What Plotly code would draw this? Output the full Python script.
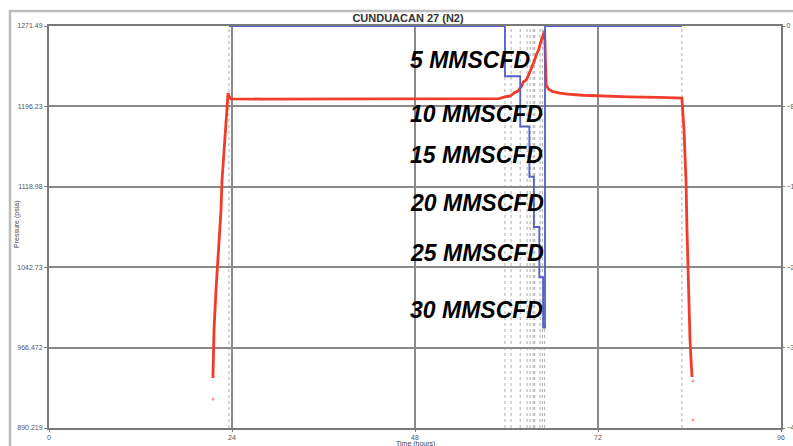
import plotly.graph_objects as go

# ---------------- data ----------------
pressure_time = [21.5, 21.64, 21.9, 22.16, 22.3, 22.56, 22.69, 22.95, 23.08, 23.21, 23.34, 23.48,
                 23.6, 23.87, 28, 34, 40, 46, 52, 56, 59.0, 59.8, 60.5, 61.0, 61.5, 61.8, 62.0,
                 62.2, 62.6, 63.0, 63.3, 63.6, 63.9, 64.2, 64.5, 64.8, 65.0, 65.1, 65.2, 65.5,
                 66.0, 67.0, 68.0, 70.0, 72.0, 76.0, 80.0, 83.0, 83.28, 83.54, 83.67, 83.8,
                 83.93, 84.07, 84.2, 84.33]
pressure_psia = [937.6, 983.0, 1021.0, 1049.6, 1068.5, 1097.0, 1125.0, 1153.9, 1172.9, 1187.0,
                 1201.0, 1207.9, 1205.0, 1202.3, 1202.2, 1202.3, 1202.3, 1202.4, 1202.4, 1202.5,
                 1202.6, 1204.2, 1205.1, 1208.0, 1209.8, 1212.7, 1214.5, 1218.4, 1220.3, 1226.9,
                 1231.7, 1237.3, 1244.0, 1248.7, 1256.3, 1262.0, 1266.8, 1240.0, 1215.5, 1211.7,
                 1209.5, 1207.8, 1206.8, 1205.8, 1205.2, 1204.3, 1203.7, 1203.2, 1172.9, 1125.4,
                 1078.0, 1040.0, 1002.0, 973.7, 954.7, 938.6]

outlier_time = [21.5, 84.46, 84.46]
outlier_psia = [917.7, 934.8, 897.8]

rate_time = [23.6, 59.8, 59.8, 61.8, 61.8, 63.0, 63.0, 63.6, 63.6, 64.3, 64.3, 64.8, 64.8,
             65.05, 65.05, 83.0]
rate_mmscfd = [0, 0, -5, -5, -10, -10, -15, -15, -20, -20, -25, -25, -30, -30, 0, 0]

event_times = [23.6, 59.8, 60.6, 61.8, 62.7, 63.1, 63.5, 63.7, 64.4, 64.7, 65.0, 83.0]

rate_labels = ["5 MMSCFD", "10 MMSCFD", "15 MMSCFD", "20 MMSCFD", "25 MMSCFD", "30 MMSCFD"]
rate_label_pos = [-3.38, -8.76, -12.84, -17.61, -22.59, -28.26]
rate_label_time = 47.1

y_tick_vals = [890.219, 966.472, 1042.725, 1118.978, 1195.231, 1271.484]
y_tick_text = ["890.219", "966.472", "1042.73", "1118.98", "1196.23", "1271.49"]
x_tick_vals = [0, 24, 48, 72, 96]
y2_tick_vals = [0, -8, -16, -24, -32, -40]

# ---------------- figure ----------------
FONT = "Liberation Sans, Arial, sans-serif"
L, R, T, B = 49, 12, 26, 18
W, H = 793, 446
PW, PH = W - L - R, H - T - B

fig = go.Figure()

fig.add_trace(go.Scatter(
    x=rate_time, y=rate_mmscfd, yaxis="y2", mode="lines",
    line=dict(color="rgb(85,95,200)", width=1.8), showlegend=False))

fig.add_trace(go.Scatter(
    x=pressure_time, y=pressure_psia, mode="lines",
    line=dict(color="rgb(240,60,40)", width=2.8), showlegend=False))

fig.add_trace(go.Scatter(
    x=outlier_time, y=outlier_psia, mode="markers",
    marker=dict(color="rgba(240,90,80,0.6)", size=3), showlegend=False))

shapes = []
for t in event_times:
    shapes.append(dict(type="line", xref="x", yref="paper", x0=t, x1=t, y0=0, y1=1,
                       line=dict(color="rgba(120,120,120,0.6)", width=1, dash="dot"),
                       layer="below"))
# outer frame
shapes.append(dict(type="rect", xref="paper", yref="paper",
                   x0=(10 - L) / PW, x1=(810 - L) / PW,
                   y0=-(470 - (H - B)) / PH, y1=1 + (T - 11) / PH,
                   line=dict(color="#bdbdbd", width=2.5), fillcolor="rgba(0,0,0,0)",
                   layer="below"))

annotations = []
for txt, yv in zip(rate_labels, rate_label_pos):
    annotations.append(dict(x=rate_label_time, y=yv, xref="x", yref="y2", text=txt,
                            showarrow=False, xanchor="left", yanchor="middle",
                            font=dict(family=FONT, size=23, color="black",
                                      weight="bold", style="italic")))
# axis titles
annotations.append(dict(x=(415 - L) / PW, y=-(443.5 - (H - B)) / PH, xref="paper", yref="paper",
                        text="Time (hours)", showarrow=False, xanchor="center",
                        yanchor="middle", borderpad=0,
                        font=dict(family=FONT, size=7, color="#444444")))
annotations.append(dict(x=-(L - 17) / PW, y=(H - B - 225) / PH, xref="paper", yref="paper",
                        text="Pressure (psia)", showarrow=False, textangle=-90,
                        xanchor="center", yanchor="middle",
                        font=dict(family=FONT, size=7, color="#444444")))

fig.update_layout(
    width=W, height=H,
    margin=dict(l=L, r=R, t=T, b=B, autoexpand=False),
    paper_bgcolor="white", plot_bgcolor="white",
    title=dict(text="<b>CUNDUACAN 27 (N2)</b>", x=408 / W, xanchor="center",
               y=1 - 18 / H, yanchor="middle",
               font=dict(family=FONT, size=11, color="#333333")),
    shapes=shapes, annotations=annotations,
    xaxis=dict(range=[0, 96], tickvals=x_tick_vals, ticktext=[str(v) for v in x_tick_vals],
               showgrid=True, gridcolor="#8a8a8a", gridwidth=1.5, automargin=False,
               showline=True, linecolor="#7a7a7a", linewidth=2, mirror=True,
               ticks="outside", ticklen=2, tickcolor="#7a7a7a",
               tickfont=dict(family=FONT, size=7, color="#555555"),
               zeroline=False),
    yaxis=dict(range=[890.219, 1271.484], tickvals=y_tick_vals, ticktext=y_tick_text,
               showgrid=True, gridcolor="#8a8a8a", gridwidth=1.5, automargin=False,
               showline=True, linecolor="#7a7a7a", linewidth=2, mirror=True,
               ticks="outside", ticklen=3, tickcolor="#7a7a7a",
               tickfont=dict(family=FONT, size=7, color="#555555"),
               zeroline=False),
    yaxis2=dict(range=[-40, 0], overlaying="y", side="right", tickvals=y2_tick_vals,
                showgrid=False, zeroline=False, showline=False, automargin=False,
                ticks="outside", ticklen=3, tickcolor="#7a7a7a",
                tickfont=dict(family=FONT, size=7, color="#555555")),
)

fig.write_html("out.html")
